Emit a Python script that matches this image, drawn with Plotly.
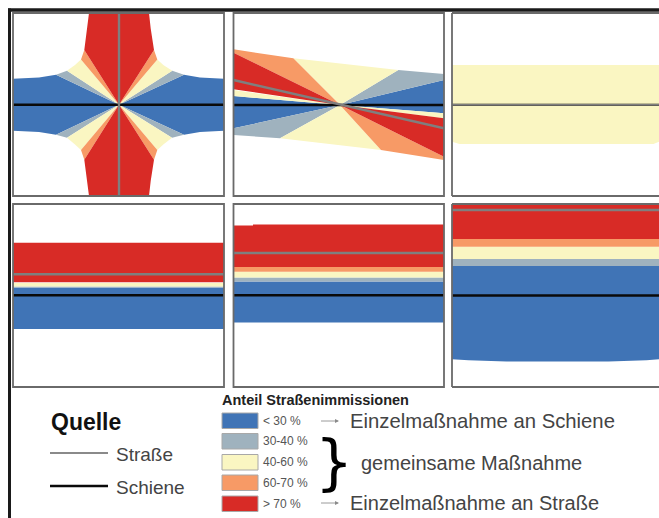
import plotly.graph_objects as go

W, H = 659, 518
BLUE, GREY, YELLOW, ORANGE, RED = "#4074B6", "#9FB2BE", "#FAF6C2", "#F79A66", "#D82B26"
ROAD, RAIL = "#7F7F7F", "#0A0A0A"

# Panel frames in page pixels: left, right, top, bottom; axis ranges: x0, x1, y0, y1
frames = [(13, 224, 13, 196), (233.5, 444, 13, 196), (452, 659, 13, 196),
          (13, 224, 204, 387), (233.5, 444, 204, 387), (452, 659, 204, 387)]
ranges = [(-106, 105, -91.3, 91.7), (-106.5, 104, -91, 92), (-105.5, 101.5, -91.3, 91.7),
          (-106, 105, -91.7, 91.3), (-105.5, 105, -91.7, 91.3), (-105.5, 101.5, -91.5, 91.5)]

# Panel 1: crossing at right angle
p1_blue = [[(0,0),(65,30),(81,27.3),(105,26),(105,-26),(81,-27.3),(65,-30),(0,0)],
           [(0,0),(-63,30),(-80,27.3),(-106,26),(-106,-26),(-80,-27.3),(-63,-30),(0,0)]]
p1_grey = [[(0,0),(53.3,34),(65,30)], [(0,0),(53,-33),(65,-30)],
           [(0,0),(-52,34),(-63,30)], [(0,0),(-52,-33),(-63,-30)]]
p1_yellow = [[(0,0),(38.3,45.3),(44.3,39.7),(53.3,34)], [(0,0),(38.3,-45.3),(44.3,-39.7),(53,-33)],
             [(0,0),(-38,45.3),(-44,39.7),(-52,34)], [(0,0),(-38,-45.3),(-44,-39.7),(-52,-33)]]
p1_orange = [[(0,0),(35,54.7),(38.3,45.3)], [(0,0),(35,-55),(38.3,-45.3)],
             [(0,0),(-34.7,54.7),(-38,45.3)], [(0,0),(-34.7,-55),(-38,-45.3)]]
p1_red = [[(0,0),(35,54.7),(31.7,76.3),(30,91.7),(-30,91.7),(-31.7,76.3),(-34.7,54.7),(0,0)],
          [(0,0),(35,-55),(31.7,-76.3),(30,-91.3),(-30,-91.3),(-31.7,-76.3),(-34.7,-55),(0,0)]]
p1_road = [(0,-91.3),(0,91.7)]
p1_rail = [(-106,0),(105,0)]

# Panel 2: crossing at a shallow angle
p2_blue = [[(0,0),(-106.5,9),(-106.5,-23.3)], [(0,0),(104,25),(104,-8.3)]]
p2_grey = [[(0,0),(-106.5,-23.3),(-106.5,-30),(-60,-33.3)], [(0,0),(58.3,35),(104,31),(104,25)]]
p2_yellow = [[(0,0),(-46.7,46.7),(58.3,35)], [(0,0),(-60,-33.3),(41,-45)],
             [(0,0),(-106.5,15),(-106.5,9)], [(0,0),(104,-8.3),(104,-13.3)]]
p2_orange = [[(0,0),(-106.5,52.3),(-106.5,55.7),(-46.7,46.7)], [(0,0),(104,-51.7),(104,-55),(45,-45.7),(41,-45)]]
p2_red = [[(0,0),(-106.5,15.7),(-106.5,52.3)], [(0,0),(104,-13.3),(104,-51.7)]]
p2_road = [(-106.5,25),(104,-23.3)]
p2_rail = [(-106.5,0),(104,0)]

# Panel 3: road and rail on the same line
p3_yellow = [[(-105.5,39.7),(101.5,39.7),(101.5,-37),(96,-39.3),(-98,-39.3),(-105.5,-37)]]
p3_rail = [(-105.5,0),(101.5,0)]
p3_road = [(-105.5,0),(101.5,0)]

# Panel 4: parallel, near
p4_blue = [[(-106,7.7),(105,7.7),(105,-33.7),(-106,-33.7)]]
p4_grey = [[(-106,8.7),(105,8.7),(105,7.7),(-106,7.7)]]
p4_yellow = [[(-106,12.3),(105,12.3),(105,8.7),(-106,8.7)]]
p4_orange = [[(-106,13),(105,13),(105,12.3),(-106,12.3)]]
p4_red = [[(-106,52.6),(105,52.6),(105,13),(-106,13)]]
p4_road = [(-106,21),(105,21)]
p4_rail = [(-106,0),(105,0)]

# Panel 5: parallel, further apart
p5_blue = [[(-105.5,13.7),(105,13.7),(105,-27.3),(-105.5,-27.3)]]
p5_grey = [[(-105.5,17.7),(105,17.7),(105,13.7),(-105.5,13.7)]]
p5_yellow = [[(-105.5,23.5),(105,23.5),(105,17.7),(-105.5,17.7)]]
p5_orange = [[(-105.5,28.3),(105,28.3),(105,23.5),(-105.5,23.5)]]
p5_red = [[(-105.5,69.7),(-86,69.7),(-86,70.7),(105,70.7),(105,28.3),(-105.5,28.3)]]
p5_road = [(-105.5,42.3),(105,42.3)]
p5_rail = [(-105.5,0),(105,0)]

# Panel 6: parallel, far apart
p6_blue = [[(-105.5,29.5),(101.5,29.5),(101.5,-63.8),(89,-64.8),(51,-66),(-51,-66),(-89,-64.8),(-105.5,-63.8)]]
p6_grey = [[(-105.5,36.5),(101.5,36.5),(101.5,29.5),(-105.5,29.5)]]
p6_yellow = [[(-105.5,48.8),(101.5,48.8),(101.5,36.5),(-105.5,36.5)]]
p6_orange = [[(-105.5,56.5),(101.5,56.5),(101.5,48.8),(-105.5,48.8)]]
p6_red = [[(-105.5,91.5),(101.5,91.5),(101.5,56.5),(-105.5,56.5)]]
p6_road = [(-105.5,85.5),(101.5,85.5)]
p6_rail = [(-105.5,0),(101.5,0)]

panels = [
    [(p1_blue,BLUE),(p1_grey,GREY),(p1_yellow,YELLOW),(p1_orange,ORANGE),(p1_red,RED)],
    [(p2_blue,BLUE),(p2_grey,GREY),(p2_yellow,YELLOW),(p2_orange,ORANGE),(p2_red,RED)],
    [(p3_yellow,YELLOW)],
    [(p4_blue,BLUE),(p4_grey,GREY),(p4_yellow,YELLOW),(p4_orange,ORANGE),(p4_red,RED)],
    [(p5_blue,BLUE),(p5_grey,GREY),(p5_yellow,YELLOW),(p5_orange,ORANGE),(p5_red,RED)],
    [(p6_blue,BLUE),(p6_grey,GREY),(p6_yellow,YELLOW),(p6_orange,ORANGE),(p6_red,RED)],
]
roads = [p1_road, p2_road, p3_road, p4_road, p5_road, p6_road]
rails = [p1_rail, p2_rail, p3_rail, p4_rail, p5_rail, p6_rail]
road_widths = [2.4, 2.4, 1.6, 2.4, 2.4, 2.4]
rail_widths = [2.4, 2.4, 2, 2.4, 2.4, 2.4]

legend_title = "Anteil Straßenimmissionen"
legend_labels = ["< 30 %", "30-40 %", "40-60 %", "60-70 %", "> 70 %"]
legend_colors = [BLUE, GREY, YELLOW, ORANGE, RED]
source_title = "Quelle"
source_road = "Straße"
source_rail = "Schiene"
measure_rail = "Einzelmaßnahme an Schiene"
measure_both = "gemeinsame Maßnahme"
measure_road = "Einzelmaßnahme an Straße"

def px(x): return x / W
def py(y): return 1 - y / H

fig = go.Figure()
layout_axes = {}
shapes = []
for i, ((l, r, t, b), (x0, x1, y0, y1)) in enumerate(zip(frames, ranges)):
    n = "" if i == 0 else str(i + 1)
    layout_axes[f"xaxis{n}"] = dict(domain=[px(l), px(r)], range=[x0, x1], visible=False, anchor=f"y{n}", fixedrange=True)
    layout_axes[f"yaxis{n}"] = dict(domain=[py(b), py(t)], range=[y0, y1], visible=False, anchor=f"x{n}", fixedrange=True)
    for polys, color in panels[i]:
        xs, ys = [], []
        for poly in polys:
            xs += [p[0] for p in poly] + [poly[0][0], None]
            ys += [p[1] for p in poly] + [poly[0][1], None]
        fig.add_trace(go.Scatter(x=xs, y=ys, mode="lines", line=dict(width=0), fill="toself",
                                 fillcolor=color, hoverinfo="skip", showlegend=False,
                                 xaxis=f"x{n}", yaxis=f"y{n}"))
    fig.add_trace(go.Scatter(x=[p[0] for p in rails[i]], y=[p[1] for p in rails[i]], mode="lines",
                             line=dict(color=RAIL, width=rail_widths[i]), hoverinfo="skip", showlegend=False,
                             xaxis=f"x{n}", yaxis=f"y{n}"))
    fig.add_trace(go.Scatter(x=[p[0] for p in roads[i]], y=[p[1] for p in roads[i]], mode="lines",
                             line=dict(color=ROAD, width=road_widths[i]), hoverinfo="skip", showlegend=False,
                             xaxis=f"x{n}", yaxis=f"y{n}"))
    if r >= W:
        for (a, c, d, e) in [(l, t, W + 2, t), (l, b, W + 2, b), (l, t, l, b)]:
            shapes.append(dict(type="line", xref="paper", yref="paper", x0=px(a), y0=py(c), x1=px(d), y1=py(e),
                               line=dict(color="#6A6A6A", width=1.8)))
    else:
        shapes.append(dict(type="rect", xref="paper", yref="paper", x0=px(l), x1=px(r), y0=py(b), y1=py(t),
                           line=dict(color="#6A6A6A", width=1.8)))

# heavy outer frame
shapes.append(dict(type="line", xref="paper", yref="paper", x0=px(8), x1=1, y0=py(10), y1=py(10),
                   line=dict(color="#1A1A1A", width=3.5)))
shapes.append(dict(type="line", xref="paper", yref="paper", x0=px(9.5), x1=px(9.5), y0=py(8.5), y1=0,
                   line=dict(color="#1A1A1A", width=3)))
# source key
shapes.append(dict(type="line", xref="paper", yref="paper", x0=px(50), x1=px(108), y0=py(453), y1=py(453),
                   line=dict(color="#8A8A8A", width=2)))
shapes.append(dict(type="line", xref="paper", yref="paper", x0=px(50), x1=px(108), y0=py(486), y1=py(486),
                   line=dict(color="#0A0A0A", width=2.6)))
# class key
swatch_tops = [413, 433.5, 454.5, 475, 496]
for c, st in zip(legend_colors, swatch_tops):
    shapes.append(dict(type="rect", xref="paper", yref="paper", x0=px(222), x1=px(258), y0=py(st + 15.5), y1=py(st),
                       fillcolor=c, line=dict(color="#A8A8A8", width=1)))
# arrows
for ay in (421, 503):
    shapes.append(dict(type="line", xref="paper", yref="paper", x0=px(321), x1=px(338), y0=py(ay), y1=py(ay),
                       line=dict(color="#9A9A9A", width=1)))
    shapes.append(dict(type="path", xref="paper", yref="paper",
                       path=f"M {px(335)} {py(ay-2)} L {px(339)} {py(ay)} L {px(335)} {py(ay+2)} Z",
                       fillcolor="#8A8A8A", line=dict(width=0)))

def note(text, x, y, size, color="#444444", bold=False, family="Liberation Sans, Arial, sans-serif"):
    t = f"<b>{text}</b>" if bold else text
    return dict(text=t, x=px(x - 2), y=py(y), xref="paper", yref="paper", showarrow=False,
                xanchor="left", yanchor="middle", font=dict(size=size, color=color, family=family))

annotations = [
    note(source_title, 51, 422, 23, "#111111", True),
    note(source_road, 116, 454, 19),
    note(source_rail, 116, 487, 19),
    note(legend_title, 222, 400, 14.5, "#222222", True),
    note(measure_rail, 350, 421, 20.3),
    note(measure_both, 361, 463, 20),
    note(measure_road, 350, 503, 20),
    note("}", 315, 462, 60, "#000000", False, "DejaVu Sans, sans-serif"),
]
for lab, st in zip(legend_labels, swatch_tops):
    annotations.append(note(lab, 263, st + 7.5, 12, "#555555"))

fig.update_layout(width=W, height=H, margin=dict(l=0, r=0, t=0, b=0), paper_bgcolor="white", plot_bgcolor="white",
                  showlegend=False, shapes=shapes, annotations=annotations, **layout_axes)
fig.write_html("out.html", config={"displayModeBar": False},
               post_script="document.body.style.margin='0';document.body.style.overflow='hidden';")
